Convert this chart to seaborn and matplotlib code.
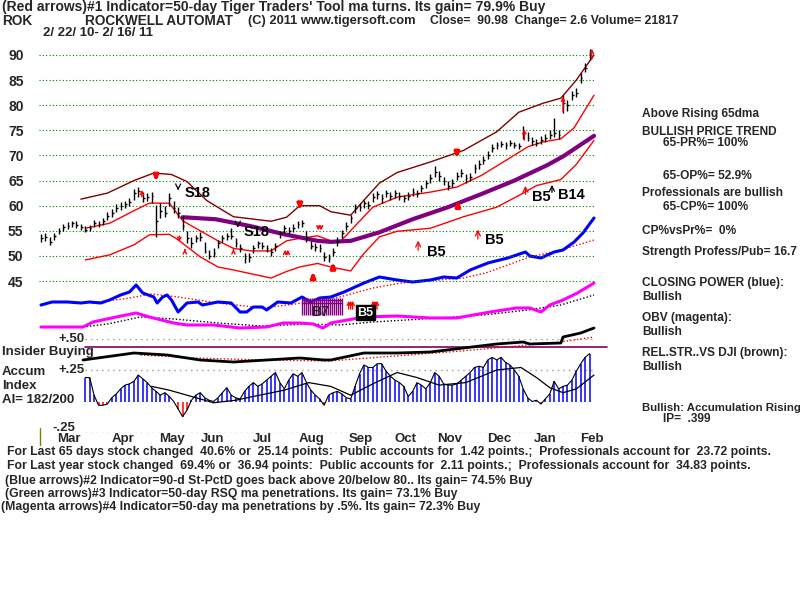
import matplotlib
matplotlib.use("Agg")
import matplotlib.pyplot as plt
import seaborn as sns

W_PX, H_PX = 800, 600

# price bars, one every second trading day, day 0 = 2/22/10
bar_days = list(range(0, 250, 2))
closes = [53.5, 53.8, 52.8, 54.0, 55.0, 55.8, 56.0, 56.5, 56.2, 55.8,
          55.2, 55.5, 56.5, 56.3, 57.0, 58.0, 58.5, 59.5, 60.0, 60.3,
          60.8, 62.5, 63.0, 61.5, 61.8, 62.0, 57.0, 59.0, 58.5, 61.5,
          59.5, 58.5, 56.0, 53.5, 52.5, 53.5, 53.8, 51.0, 50.0, 50.5,
          52.5, 53.5, 54.0, 54.0, 52.5, 51.5, 49.5, 49.8, 51.5, 52.5,
          52.0, 51.5, 50.8, 52.0, 54.5, 55.5, 55.0, 55.5, 56.3, 56.5,
          53.5, 52.0, 51.8, 51.5, 49.8, 49.5, 50.8, 53.0, 54.5, 56.0,
          57.5, 59.5, 59.8, 60.5, 60.2, 61.8, 62.3, 61.5, 62.5, 62.0,
          62.5, 62.0, 61.5, 62.0, 62.8, 62.5, 63.5, 64.5, 65.5, 66.8,
          66.0, 65.0, 64.0, 64.5, 66.0, 66.5, 65.5, 65.8, 67.5, 68.2,
          69.0, 70.0, 71.5, 72.0, 72.3, 72.0, 72.5, 72.0, 71.8, 74.5,
          73.5, 72.8, 72.5, 73.0, 73.5, 74.0, 74.5, 74.0, 80.5, 80.0,
          82.0, 82.5, 85.5, 87.5, 90.5]
highs = [54.3, 54.5, 53.8, 54.6, 55.6, 56.3, 56.8, 57.0, 56.9, 56.4,
         56.0, 56.1, 57.2, 57.0, 57.6, 58.7, 59.3, 60.3, 60.8, 61.0,
         61.5, 63.3, 63.8, 62.8, 62.6, 62.8, 60.2, 60.5, 60.0, 62.5,
         61.0, 59.8, 58.0, 55.0, 53.8, 54.2, 54.8, 52.8, 51.2, 51.5,
         53.2, 54.2, 54.6, 55.5, 53.5, 52.3, 50.5, 50.6, 52.2, 53.0,
         52.8, 52.2, 51.5, 52.6, 55.0, 56.2, 55.8, 56.3, 57.0, 57.2,
         55.0, 53.0, 52.5, 52.3, 50.8, 50.3, 51.5, 53.8, 55.2, 56.8,
         58.2, 60.3, 60.5, 61.2, 61.0, 62.5, 63.0, 62.4, 63.2, 62.8,
         63.2, 62.8, 62.2, 62.7, 63.5, 63.2, 64.2, 65.2, 66.3, 67.8,
         66.9, 65.8, 64.9, 65.3, 66.8, 67.3, 66.3, 66.5, 68.2, 69.0,
         69.8, 70.8, 72.2, 72.6, 72.9, 72.7, 73.0, 72.6, 72.4, 75.8,
         74.6, 73.6, 73.2, 73.8, 74.3, 75.0, 77.5, 75.0, 82.0, 81.0,
         82.8, 83.5, 86.5, 88.5, 91.2]
lows = [52.8, 53.0, 52.2, 53.2, 54.3, 55.0, 55.4, 55.8, 55.6, 55.2,
        54.7, 54.9, 55.8, 55.7, 56.2, 57.2, 57.8, 58.8, 59.2, 59.5,
        60.0, 61.2, 61.8, 60.8, 60.9, 60.5, 53.8, 57.5, 57.8, 60.0,
        58.5, 57.5, 55.2, 52.5, 51.5, 52.8, 53.0, 50.5, 49.3, 49.8,
        51.5, 52.8, 53.2, 53.3, 51.8, 50.8, 48.6, 48.8, 50.5, 51.6,
        51.3, 50.8, 50.0, 51.0, 53.5, 54.6, 54.3, 54.8, 55.6, 55.8,
        52.8, 51.3, 51.0, 50.7, 48.9, 48.7, 50.0, 52.0, 53.6, 55.2,
        56.6, 58.6, 59.0, 59.6, 59.3, 60.8, 61.4, 60.6, 61.7, 61.2,
        61.6, 61.2, 60.8, 61.2, 62.0, 61.8, 62.7, 63.6, 64.6, 65.8,
        65.0, 64.2, 63.2, 63.8, 65.2, 65.7, 64.6, 64.9, 66.6, 67.4,
        68.2, 69.2, 70.6, 71.2, 71.6, 71.3, 71.8, 71.4, 71.2, 73.2,
        72.8, 72.0, 71.8, 72.3, 72.7, 73.2, 73.6, 73.2, 78.5, 78.8,
        81.0, 81.6, 84.5, 86.6, 89.0]

# bands around price
outer_days = [18, 30, 42, 51, 59, 66, 75, 87, 104, 111, 117, 126, 131, 140, 146,
              153, 161, 176, 191, 206, 216, 227, 235, 242, 250]
outer_vals = [61.3, 62.5, 65.0, 66.5, 66.2, 64.8, 61.0, 57.8, 56.9, 57.7, 60.0,
              60.0, 58.8, 58.1, 61.1, 64.5, 66.6, 68.7, 71.0, 74.7, 78.6, 80.4,
              81.4, 85.0, 90.0]
mid_days = [20, 31, 42, 49, 58, 64, 72, 80, 87, 95, 104, 111, 117, 125, 131, 135,
            141, 150, 161, 176, 188, 199, 209, 220, 227, 235, 241, 250]
mid_vals = [55.5, 56.5, 59.0, 60.5, 60.5, 57.0, 55.0, 53.0, 51.5, 51.0, 51.0,
            53.0, 53.5, 54.0, 53.0, 52.7, 55.5, 59.7, 61.7, 62.7, 63.7, 66.0,
            68.7, 71.7, 72.7, 73.3, 75.5, 82.0]
low_days = [20, 31, 42, 49, 58, 62, 72, 80, 87, 104, 111, 117, 125, 131, 140,
            146, 153, 161, 176, 191, 206, 218, 224, 235, 242, 250]
low_vals = [49.2, 50.2, 52.2, 54.2, 54.3, 53.2, 49.8, 47.8, 47.2, 45.6, 46.9,
            47.8, 48.5, 47.8, 47.0, 50.5, 53.8, 54.9, 55.5, 57.8, 59.7, 62.5,
            64.0, 65.2, 68.2, 73.0]
dma_days = [64, 79, 95, 110, 125, 131, 140, 153, 168, 184, 199, 214, 229, 236, 250]
dma_vals = [57.7, 57.3, 55.9, 54.3, 53.0, 52.8, 53.0, 54.7, 57.3, 59.7, 62.3,
            65.0, 68.1, 69.8, 73.9]

# closing power (blue) and OBV (magenta), arbitrary units
cp_days = [0, 5, 12, 18, 22, 27, 31, 36, 40, 43, 46, 51, 52.5, 55, 57, 59, 62,
           66, 71, 73, 80, 86, 90, 93, 96, 100, 102, 107, 113, 118, 122, 126,
           131, 137, 146, 153, 161, 168, 176, 182, 188, 194, 202, 211, 219,
           221, 226, 232, 236, 241, 245, 250]
cp_vals = [25, 28, 28, 27, 28, 27, 30, 35, 38, 45, 37, 33, 27, 33, 35, 30, 18,
           27, 28, 25, 28, 27, 18, 18, 23, 23, 20, 28, 27, 33, 28, 32, 33, 38,
           47, 53, 50, 48, 50, 53, 52, 60, 67, 72, 78, 74, 72, 78, 80, 88, 97,
           112]
cpma_days = [23, 40, 50, 62, 80, 100, 115, 125, 135, 150, 163, 180, 191, 201,
             221, 235, 250]
cpma_vals = [27, 32, 36, 33, 27, 22, 26, 30, 33, 42, 47, 50, 52, 57, 73, 80, 90]
obv_days = [0, 19, 23.5, 34, 43, 49, 60, 66, 78, 90, 102, 109.5, 117, 123,
            127.5, 131, 146, 161, 176, 188, 203, 215, 221, 226, 230, 236,
            242.5, 250]
obv_vals = [3, 3, 8, 13, 17, 13, 7, 5, 5, 2, 3, 7, 7, 6, 2, 7, 13, 14, 12, 12,
            18, 22, 22, 18, 25, 30, 37, 47]
obvma_days = [19, 30, 45, 60, 80, 100, 120, 135, 150, 180, 200, 220, 235, 250]
obvma_vals = [3, 6, 13, 11, 7, 4, 6, 5, 8, 12, 15, 20, 25, 35]

# relative strength vs DJI (black) and insider level
rs_days = [19, 42, 57, 72, 87, 102, 117, 128, 131, 146, 161, 176, 191, 206,
           218, 221, 235, 236, 244, 250]
rs_vals = [10, 17, 15, 10, 8, 10, 12, 10, 10, 17, 17, 18, 22, 26, 28, 26, 27,
           33, 37, 42]
rsma_days = [45, 70, 100, 130, 160, 190, 220, 235, 250]
rsma_vals = [15, 12, 10, 9, 14, 19, 25, 28, 33]
insider_level = 23

# accumulation index, every second day from day 20
acc_days = list(range(20, 250, 2))
acc_vals = [0.19, 0.19, 0.05, -0.03, -0.03, -0.02, 0.03, 0.06, 0.10, 0.13,
            0.14, 0.16, 0.21, 0.18, 0.15, 0.11, 0.08, 0.05, 0.07, 0.04,
            0.00, -0.06, -0.12, -0.07, 0.01, 0.05, 0.07, 0.03, 0.01, 0.00,
            0.03, 0.07, 0.11, 0.05, 0.03, 0.02, 0.08, 0.12, 0.15, 0.12,
            0.14, 0.17, 0.20, 0.23, 0.15, 0.10, 0.17, 0.22, 0.20, 0.23,
            0.15, 0.09, 0.05, 0.02, -0.03, 0.05, 0.07, 0.08, 0.06, 0.03,
            0.02, 0.12, 0.22, 0.29, 0.27, 0.27, 0.30, 0.30, 0.24, 0.20,
            0.17, 0.15, 0.12, 0.04, 0.08, 0.15, 0.13, 0.10, 0.15, 0.23,
            0.20, 0.14, 0.13, 0.13, 0.14, 0.17, 0.20, 0.23, 0.27, 0.28,
            0.27, 0.33, 0.35, 0.33, 0.35, 0.31, 0.29, 0.25, 0.20, 0.10,
            0.03, 0.00, 0.01, -0.02, 0.02, 0.06, 0.16, 0.10, 0.12, 0.13,
            0.17, 0.24, 0.30, 0.35, 0.38]
accma_days = [50, 58, 66, 78, 88, 96, 110, 121, 131, 140, 150, 161, 170, 180,
              192, 206, 217, 224, 230, 236, 242, 250]
accma_vals = [0.12, 0.09, 0.05, -0.01, 0.01, 0.04, 0.09, 0.15, 0.12, 0.05,
              0.14, 0.23, 0.19, 0.13, 0.15, 0.25, 0.27, 0.19, 0.11, 0.07,
              0.10, 0.21]

months = ["Mar", "Apr", "May", "Jun", "Jul", "Aug", "Sep", "Oct", "Nov", "Dec", "Jan", "Feb"]
month_pos = [12.7, 37.1, 59.2, 77.8, 99.9, 122.1, 144.7, 165, 184.9, 207.1, 227.9, 249.1]

# signals
thick_down = [(52, 64.4), (117, 58.7), (188, 69.0)]
thick_up = [(123, 47.3), (132, 49.2), (188.5, 61.5)]
hollow_down = [(126, 54.5)]
hollow_up = [(111, 51.8)]
red_thin = [(45.6, 61.2, 63.7), (62.5, 54.5, 52.2), (65, 50.6, 51.9), (87, 50.6, 51.9),
            (218.5, 72.5, 75.8), (236, 78.2, 82.3), (249, 88.6, 91.8)]
sig_days = [62, 89, 170.5, 197.5, 219, 231]
sig_tip = [62.5, 55.1, 53.6, 55.8, 64.5, 64.7]
sig_tail = [64.1, 56.7, 50.6, 52.8, 61.7, 62.1]
sig_label = ["S18", "S18", "B5", "B5", "B5", "B14"]
sig_color = ["black", "black", "red", "red", "red", "black"]
sig_lab_x = [65, 91.5, 174.5, 200.7, 222, 233.7]
sig_lab_y = [62.6, 54.8, 50.8, 53.2, 61.7, 62.1]

sns.set_style("white")
plt.rcParams['font.family'] = ['Liberation Sans', 'DejaVu Sans']
plt.rcParams['font.weight'] = 'bold'

fig = plt.figure(figsize=(8, 6), dpi=100)
fig.patch.set_facecolor("white")

XL = (-1, 251)
left = (41 - 2.212) / W_PX
width = 252 * 2.212 / W_PX


def make_axes(px_bottom, px_top, ylim):
    ax = fig.add_axes([left, 1 - px_bottom / H_PX, width, (px_bottom - px_top) / H_PX])
    ax.set_xlim(*XL)
    ax.set_ylim(*ylim)
    ax.patch.set_alpha(0)
    for s in ax.spines.values():
        s.set_visible(False)
    ax.set_xticks([])
    ax.set_yticks([])
    return ax


ax_acc = make_axes(433, 338.5, (-0.25, 0.5))
ax_rs = make_axes(370, 310, (0, 60))
ax_ind = make_axes(345, 195, (-15, 135))
ax = make_axes(296.1, 39.9, (42, 93))


def line(a, x, y, color, lw, ls='-'):
    sns.lineplot(x=x, y=y, ax=a, color=color, linewidth=lw, linestyle=ls,
                 estimator=None, sort=False)


# ---- price panel ----
ax.set_yticks(range(45, 91, 5))
ax.tick_params(axis='y', length=0, pad=11, labelsize=10)
ax.grid(axis='y', color='#008000', linestyle=(0, (1, 2)), linewidth=0.8)
ax.set_axisbelow(True)

line(ax, outer_days, outer_vals, '#800000', 1.0)
line(ax, mid_days, mid_vals, '#ff0000', 1.0)
line(ax, low_days, low_vals, '#ff0000', 1.0)
line(ax, dma_days, dma_vals, '#800080', 3.0)

ax.vlines(bar_days, lows, highs, color='black', linewidth=1.0)
ax.hlines(closes, [d for d in bar_days], [d + 0.8 for d in bar_days], color='black', linewidth=1.0)

for d, p in thick_down:
    ax.annotate('', xy=(d, p), xytext=(d, p + 2.4),
                arrowprops=dict(arrowstyle='-|>', color='red', lw=2.6, mutation_scale=6))
for d, p in thick_up:
    ax.annotate('', xy=(d, p), xytext=(d, p - 2.4),
                arrowprops=dict(arrowstyle='-|>', color='red', lw=2.6, mutation_scale=6))
for d, p in hollow_down:
    for off in (-0.6, 0.6):
        ax.annotate('', xy=(d + off, p), xytext=(d + off, p + 2.0),
                    arrowprops=dict(arrowstyle='->', color='red', lw=1.0, mutation_scale=6))
for d, p in hollow_up:
    for off in (-0.6, 0.6):
        ax.annotate('', xy=(d + off, p), xytext=(d + off, p - 2.0),
                    arrowprops=dict(arrowstyle='->', color='red', lw=1.0, mutation_scale=6))
for d, a, b in red_thin:
    ax.annotate('', xy=(d, b), xytext=(d, a),
                arrowprops=dict(arrowstyle='->', color='red', lw=1.0, mutation_scale=6))
for d, tip, tail, lab, c, lx, ly in zip(sig_days, sig_tip, sig_tail, sig_label,
                                        sig_color, sig_lab_x, sig_lab_y):
    ax.annotate('', xy=(d, tip), xytext=(d, tail),
                arrowprops=dict(arrowstyle='->', color=c, lw=0.9, mutation_scale=9))
    ax.text(lx, ly, lab, fontsize=10.5, fontweight='bold', color='black', va='center')

# ---- closing power / OBV ----
line(ax_ind, cpma_days, cpma_vals, '#ff0000', 1.0, (0, (1, 1.5)))
line(ax_ind, cp_days, cp_vals, '#0000ff', 2.2)
line(ax_ind, obvma_days, obvma_vals, 'black', 1.0, (0, (1, 1.5)))
line(ax_ind, obv_days, obv_vals, '#ff00ff', 2.2)

hatch_days = [118 + 0.9 * i for i in range(21)]
ax_ind.vlines(hatch_days, 15, 32, color='#800080', linewidth=1.0)
ax_ind.hlines([30, 27], 118, 136, color='#800080', linewidth=1.0)
ax_ind.text(122, 18.5, "B7", fontsize=10, fontweight='bold', va='center')
for d in (140, 151):
    for off in (-0.9, 0, 0.9):
        ax_ind.annotate('', xy=(d + off, 32), xytext=(d + off, 18),
                        arrowprops=dict(arrowstyle='->', color='red', lw=0.9, mutation_scale=6))
ax_ind.text(143, 17.5, "B5", fontsize=9, fontweight='bold', va='center', color='white',
            bbox=dict(boxstyle='square,pad=0.1', fc='black', ec='black'))

# ---- relative strength / insider ----
ax_rs.plot([20, 256], [insider_level, insider_level], color='#800060', linewidth=1.2, clip_on=False)
line(ax_rs, rsma_days, rsma_vals, '#ff0000', 1.0, (0, (1, 1.5)))
line(ax_rs, rs_days, rs_vals, 'black', 2.0)

# ---- accumulation index ----
for lev, col in ((0.5, '#a090a0'), (0.25, '#a090a0'), (-0.25, '#d070d0')):
    ax_acc.plot([20, 251], [lev, lev], color=col, linestyle=(0, (1, 3)), linewidth=1.0)
pos = [v if v > 0 else 0 for v in acc_vals]
neg = [v if v < 0 else 0 for v in acc_vals]
ax_acc.vlines(acc_days, 0, pos, color='#0000ff', linewidth=1.1)
ax_acc.vlines(acc_days, neg, 0, color='#ff0000', linewidth=1.1)
line(ax_acc, acc_days, acc_vals, 'black', 0.8)
line(ax_acc, accma_days, accma_vals, 'black', 0.9)
for lev, lab, xx in ((0.5, "+.50", 19.5), (0.25, "+.25", 19.5), (-0.21, "-.25", 15.5)):
    ax_acc.text(xx, lev, lab, ha='right', va='center', fontsize=9.5, fontweight='bold')
for m, p in zip(months, month_pos):
    ax_acc.text(p, -0.295, m, ha='center', va='center', fontsize=9.5,
                fontweight='bold', clip_on=False)
ax_acc.plot([-0.5, -0.5], [-0.21, -0.345], color='#808000', linewidth=1.0, clip_on=False)


def put(px, py, s, size=8.8):
    fig.text(px / W_PX, 1 - py / H_PX, s, ha='left', va='center',
             fontsize=size, fontweight='bold')


put(2, 7.5, "(Red arrows)#1 Indicator=50-day Tiger Traders' Tool ma turns. Its gain= 79.9% Buy", 10)
put(2, 21, "ROK", 9.8)
put(85, 21, "ROCKWELL AUTOMAT", 9.8)
put(248, 21, "(C) 2011 www.tigersoft.com", 9.3)
put(430, 21, "Close=  90.98  Change= 2.6 Volume= 21817")
put(43, 33, "2/ 22/ 10- 2/ 16/ 11", 9.5)

right = [(642, 114, "Above Rising 65dma"), (642, 131.5, "BULLISH PRICE TREND"),
         (663, 143.5, "65-PR%= 100%"), (663, 176, "65-OP%= 52.9%"),
         (642, 193.5, "Professionals are bullish"), (663, 207.5, "65-CP%= 100%"),
         (642, 231, "CP%vsPr%=  0%"), (642, 252, "Strength Profess/Pub= 16.7"),
         (642, 283, "CLOSING POWER (blue):"), (642, 297, "Bullish"),
         (642, 318, "OBV (magenta):"), (642, 332, "Bullish"),
         (642, 353, "REL.STR..VS DJI (brown):"), (642, 367, "Bullish"),
         (663, 419, "IP=  .399")]
for x, y, s in right:
    put(x, y, s, 8.6)
put(642, 408, "Bullish: Accumulation Rising", 8.2)

put(2, 352, "Insider Buying", 9.5)
put(2, 372, "Accum", 9.5)
put(2, 386, "Index", 9.5)
put(2, 400, "AI= 182/200", 9.5)

bottom = [(7, 452, "For Last 65 days stock changed  40.6% or  25.14 points:  Public accounts for  1.42 points.;  Professionals account for  23.72 points."),
          (7, 466, "For Last year stock changed  69.4% or  36.94 points:  Public accounts for  2.11 points.;  Professionals account for  34.83 points."),
          (5, 481, "(Blue arrows)#2 Indicator=90-d St-PctD goes back above 20/below 80.. Its gain= 74.5% Buy"),
          (5, 494, "(Green arrows)#3 Indicator=50-day RSQ ma penetrations. Its gain= 73.1% Buy"),
          (1, 507, "(Magenta arrows)#4 Indicator=50-day ma penetrations by .5%. Its gain= 72.3% Buy")]
for x, y, s in bottom:
    put(x, y, s, 8.8)

fig.savefig("out.png", dpi=100, facecolor="white")
